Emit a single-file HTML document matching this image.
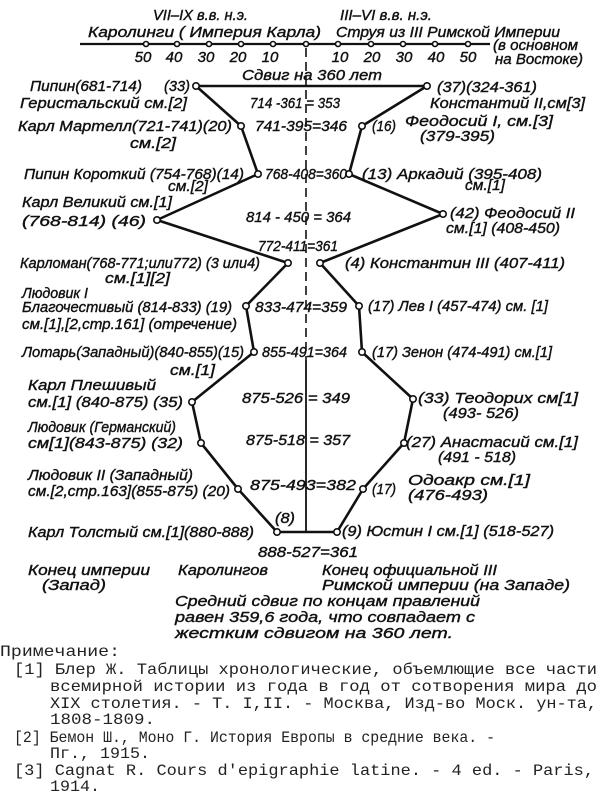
<!DOCTYPE html>
<html><head><meta charset="utf-8"><style>
html,body{margin:0;padding:0;background:#fff;}
svg{display:block;}
.d{font-family:"Liberation Sans","DejaVu Sans",sans-serif;font-style:italic;font-size:15px;fill:#111;stroke:#111;stroke-width:0.4;}
.m{font-family:"Liberation Mono","DejaVu Sans Mono",monospace;font-size:16px;fill:#222;}
.n{fill:#fff;stroke:#111;stroke-width:1.6;}
</style></head><body>
<svg width="600" height="793" viewBox="0 0 600 793" xmlns="http://www.w3.org/2000/svg">
<line x1="80" y1="44" x2="490" y2="44" stroke="#111" stroke-width="2.2"/>
<g class="n">
<circle cx="146" cy="44" r="2.5"/><circle cx="177" cy="44" r="2.5"/><circle cx="209" cy="44" r="2.5"/><circle cx="241" cy="44" r="2.5"/><circle cx="273" cy="44" r="2.5"/><circle cx="306" cy="44" r="2.5"/><circle cx="338" cy="44" r="2.5"/><circle cx="371" cy="44" r="2.5"/><circle cx="403" cy="44" r="2.5"/><circle cx="435" cy="44" r="2.5"/><circle cx="468" cy="44" r="2.5"/>
</g>
<line x1="306" y1="48" x2="306" y2="360" stroke="#111" stroke-width="1.6" stroke-dasharray="9,5"/>
<line x1="306" y1="360" x2="306" y2="532" stroke="#111" stroke-width="1.8"/>
<polyline points="196,86 427,86" fill="none" stroke="#111" stroke-width="2.6"/>
<polyline points="196,86 241,126 258,174 157,220 288,263 246,306 254,352 192,402 201,443 238,489 277,532 337,532 363,489 404,443 413,399 362,352 359,306 320,263 443,214 349,174 362,126 427,86" fill="none" stroke="#111" stroke-width="2.6" stroke-linejoin="round"/>
<g class="n">
<circle cx="196" cy="86" r="3.2"/><circle cx="427" cy="86" r="3.2"/>
<circle cx="241" cy="126" r="3.2"/><circle cx="362" cy="126" r="3.2"/>
<circle cx="258" cy="174" r="3.2"/><circle cx="349" cy="174" r="3.2"/>
<circle cx="157" cy="220" r="3.2"/><circle cx="443" cy="214" r="3.2"/>
<circle cx="288" cy="263" r="3.2"/><circle cx="320" cy="263" r="3.2"/>
<circle cx="246" cy="306" r="3.2"/><circle cx="359" cy="306" r="3.2"/>
<circle cx="254" cy="352" r="3.2"/><circle cx="362" cy="352" r="3.2"/>
<circle cx="192" cy="402" r="3.2"/><circle cx="413" cy="399" r="3.2"/>
<circle cx="201" cy="443" r="3.2"/><circle cx="404" cy="443" r="3.2"/>
<circle cx="238" cy="489" r="3.2"/><circle cx="363" cy="489" r="3.2"/>
<circle cx="277" cy="532" r="3.2"/><circle cx="337" cy="532" r="3.2"/>
</g>
<g class="d">
<text x="153" y="20" textLength="95" lengthAdjust="spacingAndGlyphs">VII–IX в.в. н.э.</text>
<text x="340" y="20" textLength="92" lengthAdjust="spacingAndGlyphs">III–VI в.в. н.э.</text>
<text x="88" y="37" textLength="233" lengthAdjust="spacingAndGlyphs">Каролинги ( Империя Карла)</text>
<text x="336" y="37" textLength="224" lengthAdjust="spacingAndGlyphs">Струя из III Римской Империи</text>
<text x="493" y="50" textLength="85" lengthAdjust="spacingAndGlyphs">(в основном</text>
<text x="495" y="64" textLength="88" lengthAdjust="spacingAndGlyphs">на Востоке)</text>
<g text-anchor="middle">
<text x="143" y="62">50</text><text x="174" y="62">40</text><text x="206" y="62">30</text><text x="238" y="62">20</text><text x="270" y="62">10</text>
<text x="340" y="62">10</text><text x="372" y="62">20</text><text x="404" y="62">30</text><text x="436" y="62">40</text><text x="468" y="62">50</text>
</g>
<text x="242" y="80" textLength="140" lengthAdjust="spacingAndGlyphs">Сдвиг на 360 лет</text>
<text x="30" y="91" textLength="112" lengthAdjust="spacingAndGlyphs">Пипин(681-714)</text>
<text x="164" y="91" textLength="26" lengthAdjust="spacingAndGlyphs">(33)</text>
<text x="20" y="108" textLength="167" lengthAdjust="spacingAndGlyphs">Геристальский см.[2]</text>
<text x="250" y="108" textLength="90" lengthAdjust="spacingAndGlyphs">714 -361 = 353</text>
<text x="437" y="92" textLength="100" lengthAdjust="spacingAndGlyphs">(37)(324-361)</text>
<text x="430" y="108" textLength="155" lengthAdjust="spacingAndGlyphs">Константий II,см[3]</text>
<text x="18" y="131" textLength="214" lengthAdjust="spacingAndGlyphs">Карл Мартелл(721-741)(20)</text>
<text x="130" y="148" textLength="46" lengthAdjust="spacingAndGlyphs">см.[2]</text>
<text x="255" y="131" textLength="92" lengthAdjust="spacingAndGlyphs">741-395=346</text>
<text x="372" y="131" textLength="24" lengthAdjust="spacingAndGlyphs">(16)</text>
<text x="405" y="126" textLength="148" lengthAdjust="spacingAndGlyphs">Феодосий I, см.[3]</text>
<text x="420" y="141" textLength="75" lengthAdjust="spacingAndGlyphs">(379-395)</text>
<text x="24" y="179" textLength="220" lengthAdjust="spacingAndGlyphs">Пипин Короткий (754-768)(14)</text>
<text x="168" y="191" textLength="40" lengthAdjust="spacingAndGlyphs">см.[2]</text>
<text x="265" y="179" textLength="82" lengthAdjust="spacingAndGlyphs">768-408=360</text>
<text x="362" y="179" textLength="180" lengthAdjust="spacingAndGlyphs">(13) Аркадий (395-408)</text>
<text x="465" y="190" textLength="40" lengthAdjust="spacingAndGlyphs">см.[1]</text>
<text x="22" y="207" textLength="150" lengthAdjust="spacingAndGlyphs">Карл Великий см.[1]</text>
<text x="22" y="226" textLength="124" lengthAdjust="spacingAndGlyphs">(768-814)  (46)</text>
<text x="246" y="222" textLength="105" lengthAdjust="spacingAndGlyphs">814 - 450 = 364</text>
<text x="450" y="218" textLength="125" lengthAdjust="spacingAndGlyphs">(42) Феодосий II</text>
<text x="446" y="233" textLength="114" lengthAdjust="spacingAndGlyphs">см.[1] (408-450)</text>
<text x="258" y="251" textLength="80" lengthAdjust="spacingAndGlyphs">772-411=361</text>
<text x="20" y="268" textLength="240" lengthAdjust="spacingAndGlyphs">Карломан(768-771;или772) (3 или4)</text>
<text x="105" y="283" textLength="65" lengthAdjust="spacingAndGlyphs">см.[1][2]</text>
<text x="345" y="268" textLength="220" lengthAdjust="spacingAndGlyphs">(4) Константин III (407-411)</text>
<text x="22" y="298" textLength="66" lengthAdjust="spacingAndGlyphs">Людовик I</text>
<text x="22" y="312" textLength="210" lengthAdjust="spacingAndGlyphs">Благочестивый (814-833) (19)</text>
<text x="22" y="329" textLength="215" lengthAdjust="spacingAndGlyphs">см.[1],[2,стр.161] (отречение)</text>
<text x="255" y="312" textLength="92" lengthAdjust="spacingAndGlyphs">833-474=359</text>
<text x="368" y="311" textLength="180" lengthAdjust="spacingAndGlyphs">(17) Лев I (457-474) см. [1]</text>
<text x="22" y="357" textLength="222" lengthAdjust="spacingAndGlyphs">Лотарь(Западный)(840-855)(15)</text>
<text x="170" y="375" textLength="45" lengthAdjust="spacingAndGlyphs">см.[1]</text>
<text x="262" y="357" textLength="85" lengthAdjust="spacingAndGlyphs">855-491=364</text>
<text x="372" y="357" textLength="180" lengthAdjust="spacingAndGlyphs">(17) Зенон (474-491) см.[1]</text>
<text x="28" y="390" textLength="128" lengthAdjust="spacingAndGlyphs">Карл Плешивый</text>
<text x="28" y="407" textLength="155" lengthAdjust="spacingAndGlyphs">см.[1] (840-875)  (35)</text>
<text x="242" y="403" textLength="108" lengthAdjust="spacingAndGlyphs">875-526 = 349</text>
<text x="418" y="403" textLength="160" lengthAdjust="spacingAndGlyphs">(33) Теодорих  см[1]</text>
<text x="443" y="418" textLength="76" lengthAdjust="spacingAndGlyphs">(493- 526)</text>
<text x="28" y="432" textLength="148" lengthAdjust="spacingAndGlyphs">Людовик (Германский)</text>
<text x="28" y="448" textLength="155" lengthAdjust="spacingAndGlyphs">см[1](843-875)   (32)</text>
<text x="246" y="445" textLength="104" lengthAdjust="spacingAndGlyphs">875-518 = 357</text>
<text x="406" y="447" textLength="172" lengthAdjust="spacingAndGlyphs">(27) Анастасий см.[1]</text>
<text x="438" y="462" textLength="78" lengthAdjust="spacingAndGlyphs">(491 - 518)</text>
<text x="28" y="480" textLength="165" lengthAdjust="spacingAndGlyphs">Людовик II (Западный)</text>
<text x="28" y="496" textLength="202" lengthAdjust="spacingAndGlyphs">см.[2,стр.163](855-875) (20)</text>
<text x="250" y="490" textLength="106" lengthAdjust="spacingAndGlyphs">875-493=382</text>
<text x="372" y="494" textLength="24" lengthAdjust="spacingAndGlyphs">(17)</text>
<text x="408" y="485" textLength="122" lengthAdjust="spacingAndGlyphs">Одоакр  см.[1]</text>
<text x="408" y="500" textLength="80" lengthAdjust="spacingAndGlyphs">(476-493)</text>
<text x="275" y="523" textLength="20" lengthAdjust="spacingAndGlyphs">(8)</text>
<text x="28" y="537" textLength="226" lengthAdjust="spacingAndGlyphs">Карл Толстый см.[1](880-888)</text>
<text x="342" y="536" textLength="212" lengthAdjust="spacingAndGlyphs">(9) Юстин I см.[1] (518-527)</text>
<text x="258" y="557" textLength="100" lengthAdjust="spacingAndGlyphs">888-527=361</text>
<text x="28" y="575" textLength="122" lengthAdjust="spacingAndGlyphs">Конец империи</text>
<text x="178" y="575" textLength="90" lengthAdjust="spacingAndGlyphs">Каролингов</text>
<text x="322" y="575" textLength="175" lengthAdjust="spacingAndGlyphs">Конец официальной III</text>
<text x="42" y="590" textLength="64" lengthAdjust="spacingAndGlyphs">(Запад)</text>
<text x="322" y="590" textLength="248" lengthAdjust="spacingAndGlyphs">Римской империи (на Западе)</text>
<text x="175" y="606" textLength="305" lengthAdjust="spacingAndGlyphs">Средний сдвиг по концам правлений</text>
<text x="175" y="622" textLength="300" lengthAdjust="spacingAndGlyphs">равен 359,6 года, что совпадает с</text>
<text x="175" y="638" textLength="278" lengthAdjust="spacingAndGlyphs">жестким сдвигом  на 360 лет.</text>
</g>
<g class="m">
<text x="0" y="656" textLength="120" lengthAdjust="spacingAndGlyphs">Примечание:</text>
<text x="14" y="674" textLength="583" lengthAdjust="spacingAndGlyphs">[1] Блер Ж.  Таблицы хронологические, объемлющие все части</text>
<text x="50" y="691" textLength="547" lengthAdjust="spacingAndGlyphs">всемирной истории из года в год от сотворения мира до</text>
<text x="50" y="708" textLength="547" lengthAdjust="spacingAndGlyphs">XIX столетия. - Т. I,II. - Москва, Изд-во Моск. ун-та,</text>
<text x="50" y="724" textLength="105" lengthAdjust="spacingAndGlyphs">1808-1809.</text>
<text x="14" y="742" textLength="481" lengthAdjust="spacingAndGlyphs">[2] Бемон Ш., Моно Г.  История Европы в средние века. -</text>
<text x="50" y="758" textLength="100" lengthAdjust="spacingAndGlyphs">Пг., 1915.</text>
<text x="14" y="775" textLength="580" lengthAdjust="spacingAndGlyphs">[3] Cagnat R. Cours d'epigraphie latine. - 4 ed. - Paris,</text>
<text x="50" y="791" textLength="50" lengthAdjust="spacingAndGlyphs">1914.</text>
</g>
</svg>
</body></html>
